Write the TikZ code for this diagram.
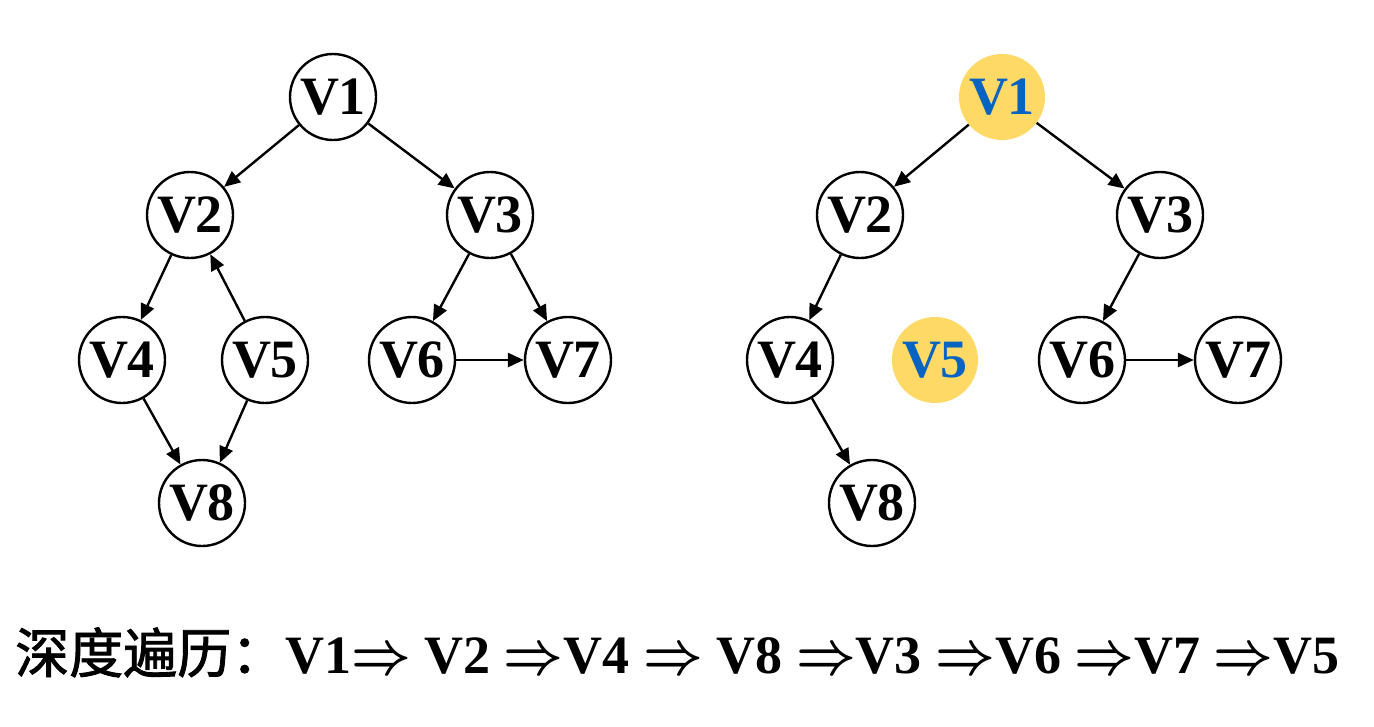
\documentclass[tikz,border=0pt]{standalone}
\usepackage{fontspec}
\usepackage{graphicx}
\setmainfont{Liberation Serif}
\newfontfamily\cjk[AutoFakeBold=1.6]{Noto Sans CJK SC}
\usetikzlibrary{arrows.meta}
\definecolor{hlyellow}{RGB}{255,217,102}
\definecolor{hlblue}{RGB}{5,99,193}
% a large implies-arrow between the steps of the traversal
\newcommand{\thenarrow}{\scalebox{5.2}[6.0]{\fontsize{10}{12}\selectfont\boldmath$\Rightarrow$}}
\tikzset{
  vtx/.style={circle, draw=black, line width=2.4pt, minimum size=86pt, inner sep=0pt,
    font=\fontsize{54}{54}\selectfont\bfseries, fill=white},
  hot/.style={circle, draw=none, fill=hlyellow, minimum size=86pt, inner sep=0pt,
    text=hlblue, font=\fontsize{54}{54}\selectfont\bfseries},
  edge/.style={line width=2.4pt, -{Triangle[length=16pt,width=14pt]}},
}
\begin{document}
\begin{tikzpicture}[x=1pt,y=-1pt]
\useasboundingbox (0,0) rectangle (1374,726);
% left graph
\node[vtx] (a1) at (333,97) {V1};
\node[vtx] (a2) at (190,215) {V2};
\node[vtx] (a3) at (490,215) {V3};
\node[vtx] (a4) at (122,360) {V4};
\node[vtx] (a5) at (265,360) {V5};
\node[vtx] (a6) at (412,360) {V6};
\node[vtx] (a7) at (568,360) {V7};
\node[vtx] (a8) at (202,503) {V8};
\draw[edge] (a1) -- (a2);
\draw[edge] (a1) -- (a3);
\draw[edge] (a2) -- (a4);
\draw[edge] (a5) -- (a2);
\draw[edge] (a3) -- (a6);
\draw[edge] (a3) -- (a7);
\draw[edge] (a6) -- (a7);
\draw[edge] (a4) -- (a8);
\draw[edge] (a5) -- (a8);
% right graph, V5 removed
\node[hot] (b1) at (1002,97) {V1};
\node[vtx] (b2) at (860,215) {V2};
\node[vtx] (b3) at (1160,215) {V3};
\node[vtx] (b4) at (790,360) {V4};
\node[hot] (b5) at (935,360) {V5};
\node[vtx] (b6) at (1082,360) {V6};
\node[vtx] (b7) at (1238,360) {V7};
\node[vtx] (b8) at (872,503) {V8};
\draw[edge] (b1) -- (b2);
\draw[edge] (b1) -- (b3);
\draw[edge] (b2) -- (b4);
\draw[edge] (b3) -- (b6);
\draw[edge] (b6) -- (b7);
\draw[edge] (b4) -- (b8);
% traversal order
\node[anchor=base west, inner sep=0pt, font=\fontsize{54}{54}\selectfont\bfseries] (order) at (15,673)
  {{\cjk 深度遍历：}V1\thenarrow{} V2 \thenarrow{}V4 \thenarrow{} V8 \thenarrow{}V3 \thenarrow{}V6 \thenarrow{}V7 \thenarrow{}V5};
\end{tikzpicture}
\end{document}
